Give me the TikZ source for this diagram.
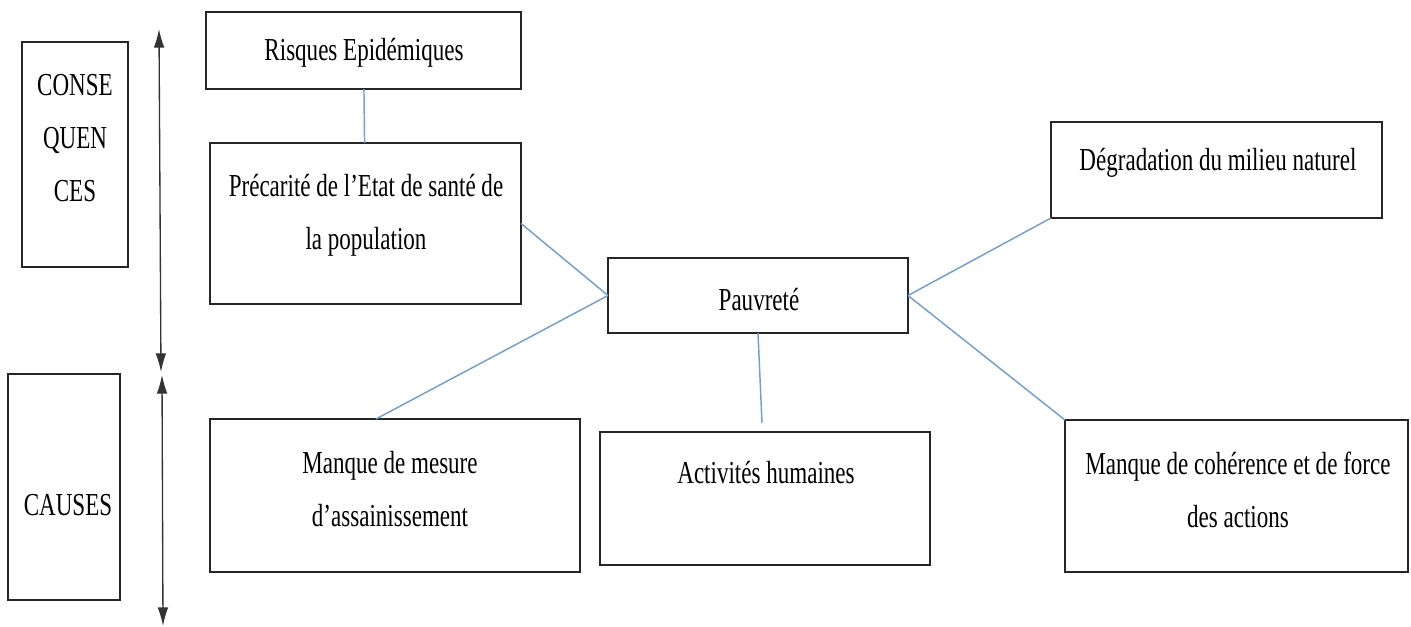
\documentclass[tikz,border=0pt]{standalone}
\usepackage{fontspec}
\setmainfont{Liberation Serif}[FakeStretch=0.72]
\usetikzlibrary{arrows.meta}

\tikzset{every picture/.style={line width=0.75pt}}
\tikzset{
  box/.style={draw=black!85, line width=1.5pt, inner sep=0pt, outer sep=0pt},
  txt/.style={inner sep=0.75pt, align=center, font=\fontsize{24}{40}\selectfont},
  link/.style={draw={rgb,255:red,110;green,160;blue,215}, line width=1.1pt},
  axe/.style={draw=black!80, line width=1pt, {Latex[length=14pt,width=8pt]}-{Latex[length=14pt,width=8pt]}}
}

\begin{document}
\begin{tikzpicture}[x=0.75pt,y=0.75pt,yscale=-1,xscale=1]
    \useasboundingbox (0,0) rectangle (1411,626);
    %Boxes
    \node [box, minimum width=79.5pt, minimum height=168.75pt] (conse) at (75,154.5) {};
    \node [box, minimum width=84pt, minimum height=169.5pt] (causes) at (64,487) {};
    \node [box, minimum width=236.25pt, minimum height=57.75pt] (risques) at (363.5,50.5) {};
    \node [box, minimum width=233.25pt, minimum height=120.75pt] (precarite) at (365.5,223.5) {};
    \node [box, minimum width=225pt, minimum height=56.25pt] (pauvrete) at (758,295.5) {};
    \node [box, minimum width=248.25pt, minimum height=72pt] (degradation) at (1216.5,170) {};
    \node [box, minimum width=277.5pt, minimum height=114.75pt] (mesure) at (395,495.5) {};
    \node [box, minimum width=247.5pt, minimum height=99.75pt] (activites) at (765,498.5) {};
    \node [box, minimum width=257.25pt, minimum height=114pt] (coherence) at (1236.5,496) {};
    % Text Nodes
    \node [txt] (t-conse) at (75,138) {CONSE\\QUEN\\CES};
    \node [txt] (t-causes) at (68,505) {CAUSES};
    \node [txt] (t-risques) at (364,53) {Risques Epidémiques};
    \node [txt] (t-precarite) at (366,215) {Précarité de l’Etat de santé de\\la population};
    \node [txt] (t-pauvrete) at (759,300) {Pauvreté};
    \node [txt] (t-degradation) at (1218,163) {Dégradation du milieu naturel};
    \node [txt] (t-mesure) at (390,489) {Manque de mesure\\d’assainissement};
    \node [txt] (t-activites) at (766,473) {Activités humaines};
    \node [txt] (t-coherence) at (1238,490) {Manque de cohérence et de force\\des actions};
    %Connectors
    \draw [link] (risques) -- (precarite);
    \draw [link] (precarite.east) -- (pauvrete.west);
    \draw [link] (mesure.104) -- (pauvrete.west);
    \coordinate (act-end) at (762,423);
    \draw [link] (pauvrete.south) -- (act-end);
    \draw [link] (pauvrete.east) -- (degradation.south west);
    \draw [link] (pauvrete.east) -- (coherence.north west);
    %Arrows
    \coordinate (ax1-top) at (159,29);
    \coordinate (ax1-bot) at (161,372);
    \coordinate (ax2-top) at (162,375);
    \coordinate (ax2-bot) at (163,626);
    \draw [axe] (ax1-top) -- (ax1-bot);
    \draw [axe] (ax2-top) -- (ax2-bot);
\end{tikzpicture}
\end{document}
